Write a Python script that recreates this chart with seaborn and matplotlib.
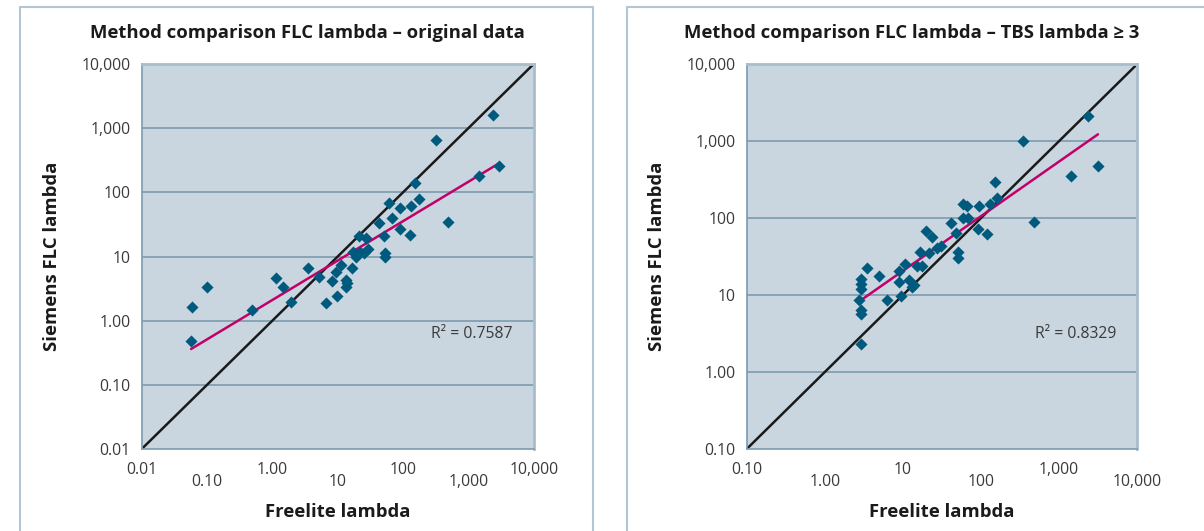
import numpy as np
import pandas as pd
import seaborn as sns
import matplotlib.pyplot as plt
from matplotlib.ticker import FixedLocator, FixedFormatter, NullLocator
from matplotlib.patches import Rectangle

# left panel: original data
orig_freelite = [0.058, 0.057, 0.099, 0.48, 1.14, 1.46, 1.95, 3.5, 5.2, 6.7,
                 8.2, 9.5, 9.7, 11.3, 13.3, 13.6, 13.8, 16.3, 17.3, 19.0,
                 20.9, 21.9, 25.2, 26.7, 29.0, 42.8, 51.0, 53.0, 53.0, 60.0,
                 67.0, 89.0, 89.0, 131, 128, 153, 174, 325, 496, 1432,
                 2350, 2972]
orig_siemens = [1.63, 0.49, 3.3, 1.45, 4.6, 3.4, 1.97, 6.7, 4.8, 1.9,
                4.2, 5.8, 2.4, 7.4, 4.3, 3.4, 3.8, 6.7, 11.6, 9.9,
                21.2, 11.6, 11.3, 19.3, 13.0, 33.0, 21.0, 11.3, 10.0, 69.0,
                40.5, 58.0, 26.7, 62.0, 21.8, 139, 79.0, 649, 34.0, 180,
                1607, 258]

# right panel: TBS lambda >= 3
tbs_freelite = [2.94, 2.74, 2.88, 2.88, 2.94, 2.94, 2.94, 3.43, 4.9, 6.25,
                8.9, 8.9, 9.35, 10.6, 12.1, 13.1, 13.9, 15.0, 16.7, 17.5,
                19.7, 21.8, 23.8, 27.6, 30.7, 40.8, 47.8, 51.2, 51.2, 58.2,
                58.7, 66.0, 67.4, 92.3, 93.0, 120, 129, 152, 160, 348,
                471, 1416, 2313, 3138]
tbs_siemens = [2.3, 8.6, 6.3, 5.7, 11.8, 13.8, 16.2, 22.3, 17.5, 8.6,
               20.6, 14.8, 9.75, 25.6, 15.6, 12.8, 13.4, 23.9, 36.4, 23.9,
               68.2, 34.6, 57.0, 40.2, 43.5, 84.9, 64.2, 36.4, 30.4, 100.6,
               151, 144, 101, 73.0, 144, 62.4, 151, 292, 183, 998,
               87.5, 350, 2109, 468]

# power trend lines y = a * x^b
trend_a = [2.10, 4.02]
trend_b = [0.614, 0.710]
r_squared = ['0.7587', '0.8329']

titles = ['Method comparison FLC lambda \u2013 original data',
          'Method comparison FLC lambda \u2013 TBS lambda \u2265 3']
x_ticks = [[0.01, 0.1, 1, 10, 100, 1000, 10000],
           [0.1, 1, 10, 100, 1000, 10000]]
y_ticks = [[0.01, 0.1, 1, 10, 100, 1000, 10000],
           [0.1, 1, 10, 100, 1000, 10000]]
tick_text = {0.01: '0.01', 0.1: '0.10', 1: '1.00', 10: '10', 100: '100',
             1000: '1,000', 10000: '10,000'}

sns.set_style('white')
plt.rcParams['font.family'] = ['Open Sans', 'DejaVu Sans']

bg = '#c9d6df'
grid_c = '#7e9ab0'
frame_c = '#a9bdcb'
dot_c = '#005a7e'
trend_c = '#c2006a'
text_c = '#3a3a3a'

fig = plt.figure(figsize=(12.04, 5.31), dpi=100)

# panel frames
fig.patches.append(Rectangle((20 / 1204, -0.05), (593 - 20) / 1204, 1.05 - 7 / 531,
                             transform=fig.transFigure, fill=False,
                             edgecolor='#b4c6d3', linewidth=1.5))
fig.patches.append(Rectangle((627 / 1204, -0.05), (1240 - 627) / 1204, 1.05 - 7 / 531,
                             transform=fig.transFigure, fill=False,
                             edgecolor='#b4c6d3', linewidth=1.5))

axes_pos = [[141.7 / 1204, 1 - 449 / 531, 392 / 1204, 385 / 531],
            [746.7 / 1204, 1 - 449 / 531, 390.6 / 1204, 385 / 531]]
title_x = [307 / 1204, 912 / 1204]
ylab_x = [52, 657]

data_sets = [(orig_freelite, orig_siemens), (tbs_freelite, tbs_siemens)]

for i, (fx, sy) in enumerate(data_sets):
    ax = fig.add_axes(axes_pos[i])
    ax.set_facecolor(bg)
    ax.set_xscale('log')
    ax.set_yscale('log')
    lo, hi = x_ticks[i][0], x_ticks[i][-1]
    ax.set_xlim(lo, hi)
    ax.set_ylim(lo, hi)

    ax.grid(False)
    for v in y_ticks[i][1:-1]:
        ax.axhline(v, color=grid_c, linewidth=1.2, zorder=1)

    df = pd.DataFrame({'freelite': fx, 'siemens': sy})
    # identity line
    ident = pd.DataFrame({'x': [lo, hi], 'y': [lo, hi]})
    sns.lineplot(data=ident, x='x', y='y', ax=ax, color='#1a1a1a',
                 linewidth=1.8, zorder=2)
    # power trend line
    tx = np.array([min(fx), max(fx)])
    trend = pd.DataFrame({'x': tx, 'y': trend_a[i] * tx ** trend_b[i]})
    sns.lineplot(data=trend, x='x', y='y', ax=ax, color=trend_c,
                 linewidth=1.8, zorder=3)
    sns.scatterplot(data=df, x='freelite', y='siemens', ax=ax, marker='D',
                    s=38, color=dot_c, linewidth=0, zorder=4)

    # staggered x labels: upper row on major ticks, lower row on long minor ticks
    upper = x_ticks[i][0::2]
    lower = x_ticks[i][1::2]
    ax.xaxis.set_major_locator(FixedLocator(upper))
    ax.xaxis.set_major_formatter(FixedFormatter([tick_text[v] for v in upper]))
    ax.xaxis.set_minor_locator(FixedLocator(lower))
    ax.xaxis.set_minor_formatter(FixedFormatter([tick_text[v] for v in lower]))
    ax.yaxis.set_major_locator(FixedLocator(y_ticks[i]))
    ax.yaxis.set_major_formatter(FixedFormatter([tick_text[v] for v in y_ticks[i]]))
    ax.yaxis.set_minor_locator(NullLocator())
    ax.tick_params(axis='both', which='both', direction='out', color=grid_c,
                   width=1.2, labelsize=11.3, labelcolor=text_c)
    ax.tick_params(axis='y', which='major', length=4.5, pad=3.6)
    ax.tick_params(axis='x', which='major', length=5, pad=4.5)
    ax.tick_params(axis='x', which='minor', length=13.5, pad=4.5)

    for side in ['left', 'bottom']:
        ax.spines[side].set_color(grid_c)
        ax.spines[side].set_linewidth(1.2)
    for side in ['top', 'right']:
        ax.spines[side].set_color(frame_c)
        ax.spines[side].set_linewidth(2)

    ax.set_xlabel('Freelite lambda', fontsize=13.3, fontweight='bold',
                  color='#1a1a1a')
    ax.set_ylabel('Siemens FLC lambda', fontsize=13.3, fontweight='bold',
                  color='#1a1a1a')
    ax.xaxis.label.set_va('center')
    ax.yaxis.label.set_va('center')
    ax.xaxis.set_label_coords(0.5, (449 - 512) / 385)
    ax.yaxis.set_label_coords((ylab_x[i] - axes_pos[i][0] * 1204) / (axes_pos[i][2] * 1204), 0.5)

    ax.text(0.843, 1 - (334 - 64) / 385, 'R\u00b2 = ' + r_squared[i],
            transform=ax.transAxes, ha='center', va='center', fontsize=11.3,
            color=text_c)

    fig.text(title_x[i], 1 - 33 / 531, titles[i], ha='center', va='center',
             fontsize=13.3, fontweight='bold', color='#1a1a1a')

fig.savefig('out.png', dpi=100)
